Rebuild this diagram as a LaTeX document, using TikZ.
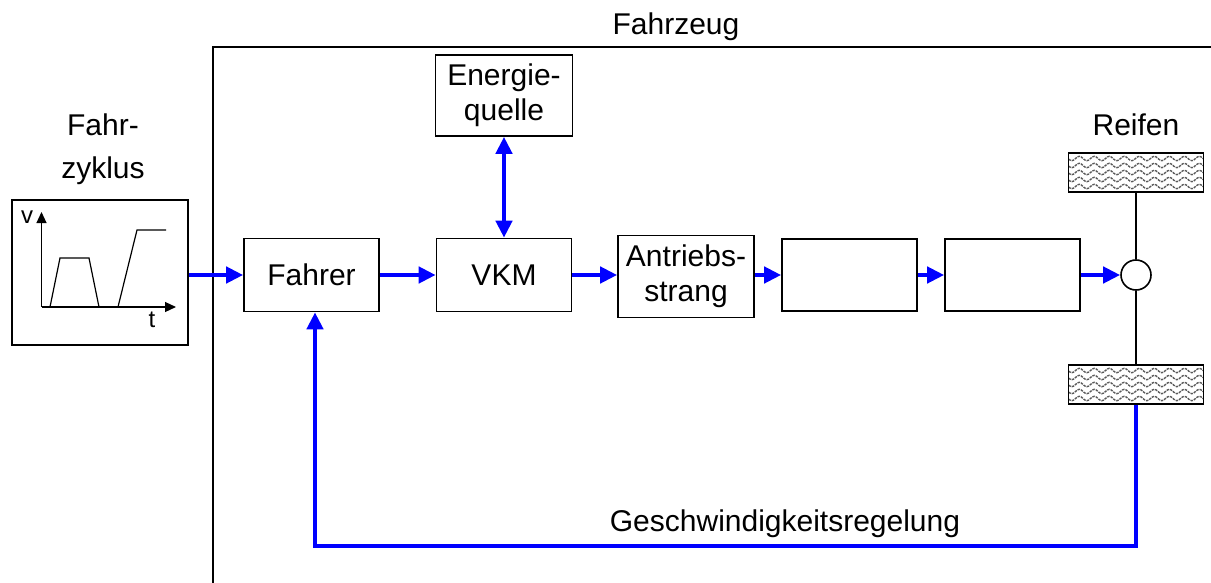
\documentclass[tikz,border=0pt]{standalone}
\usepackage{fontspec}
\setmainfont{Liberation Sans}
\usetikzlibrary{arrows.meta,decorations.pathmorphing}

\begin{document}
\begin{tikzpicture}[x=1pt,y=-1pt,
  lbl/.style={font=\fontsize{30}{33}\selectfont, align=center, inner sep=0},
  blk/.style={draw, line width=1.6pt, inner sep=0, font=\fontsize{30}{35}\selectfont,
    align=center, minimum width=135pt, minimum height=73pt},
  tire/.style={draw, line width=1.8pt, minimum width=135pt, minimum height=39pt, inner sep=0},
  flow/.style={draw=blue, line width=4.5pt, -{Triangle[length=17pt,width=16pt]}},
  bothflow/.style={draw=blue, line width=4.5pt, {Triangle[length=17pt,width=16pt]}-{Triangle[length=17pt,width=16pt]}},
  wave/.style={draw=black!65, line width=1.4pt, dash pattern=on 2.5pt off 1pt,
    decorate, decoration={snake, segment length=15pt, amplitude=2.2pt}},
  axis/.style={line width=1.2pt, -{Triangle[length=11pt,width=10pt]}},
  curve/.style={line width=1.2pt},
  small/.style={font=\fontsize{24}{26}\selectfont, inner sep=0}
]
\useasboundingbox (0,0) rectangle (1211,583);

% vehicle frame
\draw[line width=2pt] (213,583) -- (213,47) -- (1211,47);
\node[lbl] (fzg) at (676,27) {Fahrzeug};

% drive cycle
\node[lbl, font=\fontsize{30}{43}\selectfont] (cyclbl) at (103,149) {Fahr-\\zyklus};
\node[draw, line width=1.6pt, minimum width=176pt, minimum height=145pt, inner sep=0] (cyc) at (100,272.5) {};
\coordinate (o) at (41.5,307);
\draw[axis] (o) -- (41.5,212);
\draw[axis] (o) -- (176,307);
\draw[curve] (50,307) -- (60,258) -- (89,258) -- (99,307);
\draw[curve] (118,307) -- (137,230) -- (166,230);
\node[small] (vl) at (27,217) {v};
\node[small] (tl) at (152,320) {t};

% blocks
\node[blk] (fahrer) at (311.5,275) {Fahrer};
\node[blk] (vkm) at (504,275) {VKM};
\node[blk, minimum width=137pt, minimum height=81pt] (eq) at (504,95.5) {Energie-\\quelle};
\node[blk, minimum width=136pt, minimum height=82pt] (at) at (686,276.5) {Antriebs-\\strang};
\node[blk, minimum height=72pt] (b4) at (849.5,275) {};
\node[blk, minimum height=72pt] (b5) at (1012.5,275) {};

% wheel and tires
\node[lbl] (reifen) at (1136,125) {Reifen};
\node[draw, circle, line width=1.6pt, minimum size=30pt, inner sep=0] (wh) at (1136,275) {};
\node[tire] (tt) at (1136,172.5) {};
\node[tire] (tb) at (1136,384.5) {};
\foreach \c in {tt,tb}{
  \begin{scope}
    \clip ([xshift=1.5pt,yshift=1.5pt]\c.south west) rectangle ([xshift=-1.5pt,yshift=-1.5pt]\c.north east);
    \foreach \dy in {-14,-7,0,7,14}
      \draw[wave] ([xshift=-8pt,yshift=\dy pt]\c.west) -- ([xshift=8pt,yshift=\dy pt]\c.east);
  \end{scope}
}
\draw[line width=1.6pt] (tt.south) -- (wh.north);
\draw[line width=1.6pt] (wh.south) -- (tb.north);

% signal flow
\draw[flow] (cyc.east |- fahrer.west) -- (fahrer.west);
\draw[flow] (fahrer.east) -- (vkm.west);
\draw[flow] (vkm.east) -- (vkm.east -| at.west);
\draw[flow] (at.east |- b4.west) -- (b4.west);
\draw[flow] (b4.east) -- (b5.west);
\draw[flow] (b5.east) -- (wh.west);
\draw[bothflow] (eq.south) -- (vkm.north);

% speed control loop
\coordinate (fbk) at (315,546);
\draw[flow] (tb.south) |- (fbk) -- (fbk |- fahrer.south);
\node[lbl] (gr) at (785,524) {Geschwindigkeitsregelung};
\end{tikzpicture}
\end{document}
